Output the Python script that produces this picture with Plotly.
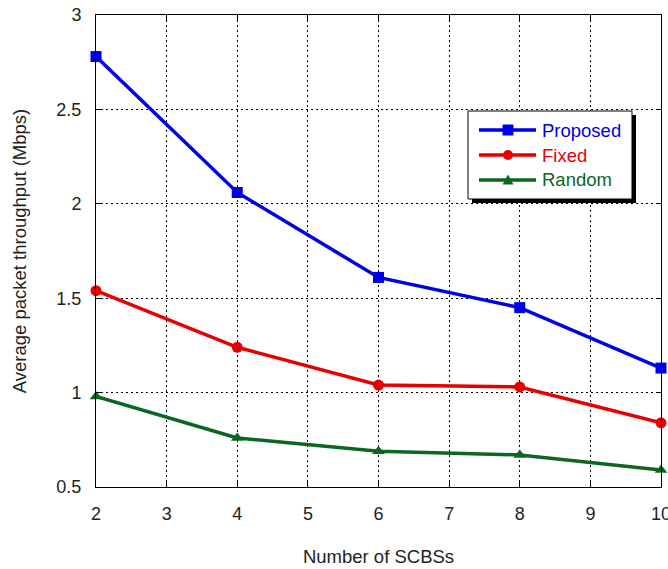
import plotly.graph_objects as go

x_scbs = [2, 4, 6, 8, 10]
proposed = [2.78, 2.06, 1.61, 1.45, 1.13]
fixed = [1.54, 1.24, 1.04, 1.03, 0.84]
random_ = [0.98, 0.76, 0.69, 0.67, 0.59]
series_names = ["Proposed", "Fixed", "Random"]

BLUE = "#0000e6"
RED = "#e60000"
GREEN = "#0b6623"
FONT = "Liberation Sans, Arial, sans-serif"

W, H = 668, 569
ML, MR, MT, MB = 96, 7, 15, 82
PW, PH = W - ML - MR, H - MT - MB


def px(xp):
    return (xp - ML) / PW


def py(yp):
    return (H - MB - yp) / PH


fig = go.Figure()
styles = [(BLUE, "square"), (RED, "circle"), (GREEN, "triangle-up")]
for name, ys, (col, sym) in zip(series_names, [proposed, fixed, random_], styles):
    fig.add_trace(go.Scatter(
        x=x_scbs, y=ys, mode="lines+markers", name=name,
        line=dict(color=col, width=3.5),
        marker=dict(symbol=sym, size=11, color=col),
        cliponaxis=False, showlegend=False,
    ))

axis_common = dict(
    showline=True, linecolor="black", linewidth=1, mirror="ticks",
    ticks="inside", ticklen=5, tickcolor="black",
    showgrid=True, gridcolor="black", gridwidth=1, griddash="2px,3px",
    zeroline=False, automargin=False,
    tickfont=dict(family=FONT, size=18, color="#222"),
    ticklabelstandoff=10, ticklabeloverflow="allow",
)

fig.update_xaxes(range=[2, 10], dtick=1, title=dict(text="Number of SCBSs",
                 font=dict(family=FONT, size=18.5, color="#222"),
                 standoff=27), **axis_common)
fig.update_yaxes(range=[0.5, 3], dtick=0.5, title=dict(text="Average packet throughput (Mbps)",
                 font=dict(family=FONT, size=18.5, color="#222"),
                 standoff=24), **axis_common)

# ---- manual legend (decoration) ----
shapes = []
shapes.append(dict(type="rect", xref="paper", yref="paper",
                   x0=px(472), x1=px(636), y0=py(203), y1=py(115),
                   fillcolor="black", line=dict(width=0), layer="above"))
shapes.append(dict(type="rect", xref="paper", yref="paper",
                   x0=px(468), x1=px(632), y0=py(199), y1=py(111),
                   fillcolor="white", line=dict(color="black", width=1), layer="above"))
row_y = [130, 155, 180]
mx = 508
for (col, sym), yy, name in zip(styles, row_y, series_names):
    shapes.append(dict(type="line", xref="paper", yref="paper",
                       x0=px(479), x1=px(536), y0=py(yy), y1=py(yy),
                       line=dict(color=col, width=3.5), layer="above"))
    if sym == "square":
        shapes.append(dict(type="rect", xref="paper", yref="paper",
                           x0=px(mx - 5.5), x1=px(mx + 5.5), y0=py(yy + 5.5), y1=py(yy - 5.5),
                           fillcolor=col, line=dict(width=0), layer="above"))
    elif sym == "circle":
        shapes.append(dict(type="circle", xref="paper", yref="paper",
                           x0=px(mx - 5), x1=px(mx + 5), y0=py(yy + 5), y1=py(yy - 5),
                           fillcolor=col, line=dict(width=0), layer="above"))
    else:
        path = (f"M{px(mx - 5.5)},{py(yy + 4.5)} L{px(mx + 5.5)},{py(yy + 4.5)} "
                f"L{px(mx)},{py(yy - 5.5)} Z")
        shapes.append(dict(type="path", xref="paper", yref="paper", path=path,
                           fillcolor=col, line=dict(width=0), layer="above"))
    fig.add_annotation(x=px(540), y=py(yy), xref="paper", yref="paper",
                       text=name, showarrow=False, xanchor="left", yanchor="middle",
                       font=dict(family=FONT, size=18.5, color=col))

fig.update_layout(
    width=W, height=H,
    margin=dict(l=ML, r=MR, t=MT, b=MB),
    plot_bgcolor="white", paper_bgcolor="white",
    showlegend=False,
    shapes=shapes,
)

fig.write_html("out.html", config={"displayModeBar": False},
               post_script="document.body.style.margin='0';")
